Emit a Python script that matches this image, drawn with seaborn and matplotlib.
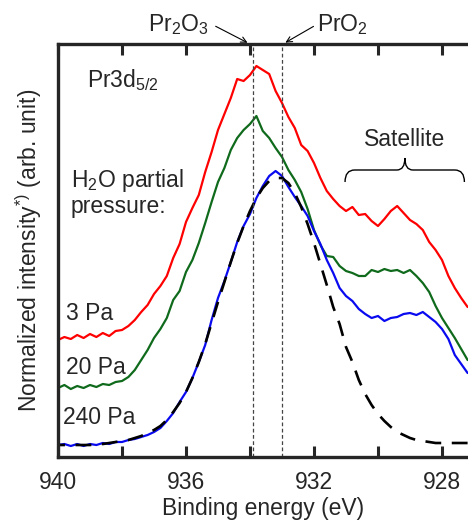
import numpy as np
import matplotlib
matplotlib.use("Agg")
import matplotlib.pyplot as plt
from matplotlib.path import Path
from matplotlib.patches import PathPatch
from matplotlib.ticker import MultipleLocator, FuncFormatter
import seaborn as sns

# binding energy grid (eV), 940 -> 927.2 in 0.2 steps
energy = [940.0, 939.8, 939.6, 939.4, 939.2, 939.0, 938.8, 938.6, 938.4, 938.2,
          938.0, 937.8, 937.6, 937.4, 937.2, 937.0, 936.8, 936.6, 936.4, 936.2,
          936.0, 935.8, 935.6, 935.4, 935.2, 935.0, 934.8, 934.6, 934.4, 934.2,
          934.0, 933.8, 933.6, 933.4, 933.2, 933.0, 932.8, 932.6, 932.4, 932.2,
          932.0, 931.8, 931.6, 931.4, 931.2, 931.0, 930.8, 930.6, 930.4, 930.2,
          930.0, 929.8, 929.6, 929.4, 929.2, 929.0, 928.8, 928.6, 928.4, 928.2,
          928.0, 927.8, 927.6, 927.4, 927.2]

# normalized intensity (arb. unit)
pa3 = [117, 120, 118, 122, 119, 123, 120, 124, 121, 126,
       127, 131, 137, 145, 152, 163, 171, 181, 199, 213,
       235, 249, 262, 285, 305, 327, 343, 359, 378, 376,
       382, 391, 387, 383, 366, 354, 340, 329, 312, 306,
       294, 279, 266, 258, 251, 246, 250, 242, 243, 236,
       231, 238, 246, 251, 244, 237, 233, 227, 215, 207,
       197, 181, 169, 159, 150]
pa20 = [69, 72, 68, 71, 69, 72, 70, 73, 72, 75,
        76, 80, 87, 97, 107, 119, 128, 139, 157, 166,
        185, 197, 214, 234, 255, 275, 289, 307, 319, 327,
        333, 341, 326, 319, 309, 300, 287, 277, 265, 248,
        227, 212, 201, 200, 191, 186, 184, 181, 181, 187,
        185, 188, 186, 187, 184, 187, 181, 174, 165, 151,
        139, 129, 119, 108, 97]
pa240 = [12, 13, 11, 13, 11, 13, 12, 14, 13, 15,
         15, 17, 18, 20, 22, 25, 29, 36, 44, 55,
         65, 79, 95, 112, 137, 159, 176, 195, 215, 231,
         243, 259, 271, 281, 286, 281, 270, 260, 251, 241,
         226, 213, 197, 184, 169, 161, 156, 148, 143, 139,
         141, 136, 139, 140, 143, 144, 142, 145, 140, 135,
         128, 118, 102, 93, 84]
fit240 = [12, 12, 12, 12, 12, 12, 13, 13, 14, 15,
          16, 17, 19, 21, 24, 27, 31, 37, 45, 54,
          65, 79, 95, 113, 134, 155, 175, 195, 214, 231,
          246, 259, 269, 276, 279, 279, 274, 264, 250, 233,
          214, 193, 172, 150, 133, 110, 95, 77, 63, 52,
          43, 36, 30, 25, 22, 19, 17, 16, 15, 14,
          14, 14, 14, 14, 14]

peak_pr2o3 = 933.9
peak_pro2 = 933.0

sns.set_style("ticks")
plt.rcParams["font.family"] = ["Liberation Sans", "DejaVu Sans"]
plt.rcParams["mathtext.fontset"] = "custom"
plt.rcParams["mathtext.rm"] = "Liberation Sans"
plt.rcParams["mathtext.it"] = "Liberation Sans:italic"
plt.rcParams["mathtext.default"] = "rm"

fs = 16.5
fig = plt.figure(figsize=(4.68, 5.22), dpi=100)
ax = fig.add_axes([58 / 468, 65 / 522, 410 / 468, 413 / 522])

sns.lineplot(x=energy, y=pa3, color="#ff0000", lw=1.6, ax=ax)
sns.lineplot(x=energy, y=pa20, color="#0f6a1c", lw=1.6, ax=ax)
sns.lineplot(x=energy, y=pa240, color="#0a0af0", lw=1.6, ax=ax)
sns.lineplot(x=energy, y=fit240, color="black", lw=1.9, ax=ax)
ax.lines[-1].set_dashes((6, 4))

for e in (peak_pr2o3, peak_pro2):
    ax.axvline(e, color="#444444", lw=0.9, ls=(0, (3, 2)))

ax.set_xlim(940, 927.1875)
ax.set_ylim(0, 413)
ax.xaxis.set_major_locator(MultipleLocator(2))
ax.xaxis.set_major_formatter(FuncFormatter(lambda v, p: "%d" % v if round(v) % 4 == 0 else ""))
ax.set_yticks([])
ax.tick_params(axis="x", direction="in", length=8, width=2.2, top=True,
               labelsize=fs, pad=10)
for s in ("left", "top", "bottom"):
    ax.spines[s].set_linewidth(2.4)
ax.spines["right"].set_visible(False)

ax.set_xlabel("Binding energy (eV)", fontsize=fs, labelpad=2)
ax.set_ylabel(r"Normalized intensity$^{*)}$ (arb. unit)", fontsize=fs, labelpad=10)

ax.text(939.09, 377, r"Pr3d$_{5/2}$", fontsize=fs, ha="left", va="center")
ax.text(939.6, 277, r"H$_2$O partial", fontsize=fs, ha="left", va="center")
ax.text(939.6, 250, "pressure:", fontsize=fs, ha="left", va="center")
ax.text(939.75, 144, "3 Pa", fontsize=fs, ha="left", va="center")
ax.text(939.75, 90, "20 Pa", fontsize=fs, ha="left", va="center")
ax.text(939.84, 39, "240 Pa", fontsize=fs, ha="left", va="center")
ax.text(929.16, 317, "Satellite", fontsize=fs, ha="center", va="center")

# curly brace over the satellite region
bx0, bx1, bxm = 931.03, 927.3, 929.16
yb, yh, yt = 275, 287, 299
verts = [(bx0, yb), (bx0, yh), (bx0 - 0.3, yh), (bxm + 0.25, yh),
         (bxm, yh), (bxm, yt), (bxm, yh), (bxm - 0.25, yh),
         (bx1 + 0.3, yh), (bx1, yh), (bx1, yb)]
codes = [Path.MOVETO, Path.CURVE3, Path.CURVE3, Path.LINETO,
         Path.CURVE3, Path.CURVE3, Path.CURVE3, Path.CURVE3,
         Path.LINETO, Path.CURVE3, Path.CURVE3]
ax.add_patch(PathPatch(Path(verts, codes), fill=False, lw=1.0, color="black"))

# peak labels above the frame
tr = ax.get_xaxis_transform()
ax.annotate("", xy=(934.0, 1.0), xycoords=tr, xytext=(935.15, 1.046), textcoords=tr,
            arrowprops=dict(arrowstyle="->", lw=0.8, color="black"), annotation_clip=False)
ax.annotate("", xy=(932.97, 1.0), xycoords=tr, xytext=(931.94, 1.046), textcoords=tr,
            arrowprops=dict(arrowstyle="->", lw=0.8, color="black"), annotation_clip=False)
ax.text(936.25, 1.046, r"Pr$_2$O$_3$", transform=tr, fontsize=fs, ha="center", va="center")
ax.text(931.12, 1.046, r"PrO$_2$", transform=tr, fontsize=fs, ha="center", va="center")

fig.savefig("out.png", dpi=100)
